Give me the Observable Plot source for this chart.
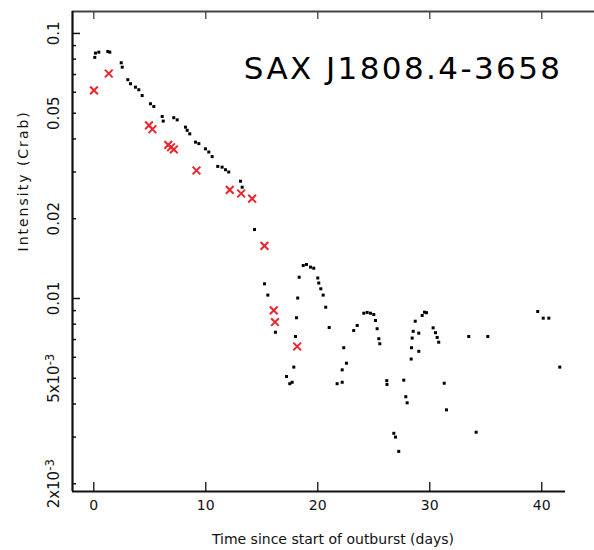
<!DOCTYPE html>
<html><head><meta charset="utf-8">
<script src="https://cdn.jsdelivr.net/npm/d3@7"></script>
<script src="https://cdn.jsdelivr.net/npm/@observablehq/plot@0.6"></script>
<style>html,body{margin:0;padding:0;background:#fff;} svg{display:block;}</style>
</head><body><div id="chart"></div>
<script>
// Black points: time since start of outburst (days) and intensity (Crab)
const blackT = [0.09,0.15,0.45,1.25,1.43,2.45,2.54,3.04,3.28,3.72,
  4.02,4.32,5.06,5.36,6.11,6.20,7.14,7.45,8.19,8.34,
  8.57,9.08,9.38,9.97,10.27,10.57,11.07,11.46,11.76,12.05,
  13.10,13.25,14.35,15.24,15.54,16.22,17.21,17.50,17.71,17.86,
  18.01,18.10,18.21,18.34,18.70,18.99,19.35,19.64,20.00,20.09,
  20.27,20.48,20.71,21.02,21.73,22.18,22.18,22.32,22.56,23.21,
  23.52,24.11,24.41,24.71,25.00,25.15,25.30,25.45,25.54,26.16,
  26.18,26.79,26.94,27.23,27.68,27.86,27.98,28.34,28.37,28.43,
  28.52,28.70,29.02,29.02,29.32,29.53,29.71,30.30,30.51,30.66,
  30.80,31.29,31.49,33.48,34.14,35.18,39.64,40.13,40.63,41.61];
const blackI = [0.0812,0.0843,0.0850,0.0855,0.0850,0.0775,0.0746,0.0669,0.0646,0.0627,
  0.0613,0.0583,0.0543,0.0530,0.0486,0.0467,0.0481,0.0472,0.0443,0.0431,
  0.0418,0.0389,0.0384,0.0367,0.0357,0.0343,0.0315,0.0313,0.0306,0.0300,
  0.0277,0.0263,0.0182,0.01136,0.0103,0.00746,0.00508,0.00477,0.00483,0.00551,
  0.00719,0.00846,0.01004,0.01203,0.01332,0.01344,0.01313,0.01301,0.01195,0.01144,
  0.01088,0.0103,0.00927,0.00777,0.00477,0.00483,0.00538,0.00652,0.0057,0.00757,
  0.00791,0.0088,0.00886,0.0088,0.0087,0.00826,0.00769,0.00705,0.00675,0.0049,
  0.00474,0.0031,0.0030,0.00265,0.00492,0.00426,0.00404,0.00591,0.00652,0.00709,
  0.00752,0.00821,0.0074,0.00632,0.00863,0.00888,0.00884,0.00775,0.00743,0.00713,
  0.00684,0.00479,0.0038,0.00719,0.00313,0.00719,0.00893,0.00843,0.00843,0.00551];

// Red crosses
const redT = [0.02,1.34,4.93,5.24,6.65,6.90,7.15,9.17,12.14,13.16,14.14,15.24,16.07,16.18,18.16];
const redI = [0.0610,0.0706,0.0450,0.0435,0.0380,0.0372,0.0365,0.0304,0.0257,0.0249,0.0238,0.0158,0.00902,0.00815,0.00659];

// Axes
const xTicks = [0,10,20,30,40];
const xTickLabels = ["0","10","20","30","40"];
const yTickValues = [0.1,0.05,0.02,0.01,0.005,0.002];
const yTickLabels = ["0.1","0.05","0.02","0.01","5x10^-3","2x10^-3"];
const yMajor = [0.1,0.01];
const yMinor = [0.09,0.08,0.07,0.06,0.05,0.04,0.03,0.02,0.009,0.008,0.007,0.006,0.005,0.004,0.003,0.002];
const xDomain = [-1.90, 42.12];
const yDomain = [0.00187, 0.121];
const titleText = "SAX J1808.4-3658";
const xLabel = "Time since start of outburst (days)";
const yLabel = "Intensity (Crab)";

const black = blackT.map((t,i)=>({t, I: blackI[i]}));
const red = redT.map((t,i)=>({t, I: redI[i]}));

const W=594, H=550, mL=72, mR=29, mT=11, mB=59;
const frameW = W-mL-mR, frameH = H-mT-mB;

const chart = Plot.plot({
  width: W, height: H,
  marginLeft: mL, marginRight: mR, marginTop: mT, marginBottom: mB,
  x: {type: "linear", domain: xDomain, axis: null},
  y: {type: "log", domain: yDomain, axis: null},
  style: {fontFamily: "DejaVu Sans", background: "#fff", overflow: "visible"},
  marks: [
    Plot.ruleY([yDomain[1]], {stroke: "#444", strokeWidth: 2, insetRight: -mR}),
    Plot.ruleY([yDomain[0]], {stroke: "#111", strokeWidth: 2}),
    Plot.ruleX([xDomain[0]], {stroke: "#111", strokeWidth: 2.2}),
    Plot.ruleX(xTicks, {stroke: "#111", strokeWidth: 1.3, insetTop: frameH-9}),
    Plot.ruleX(xTicks, {stroke: "#444", strokeWidth: 1.3, insetBottom: frameH-8}),
    Plot.ruleY(yMinor, {stroke: "#111", strokeWidth: 1.5, insetRight: frameW-4}),
    Plot.ruleY(yMajor, {stroke: "#111", strokeWidth: 1.5, insetRight: frameW-8}),
    Plot.text(xTicks, {x: d=>d, text: (d,i)=>xTickLabels[i], frameAnchor: "bottom", dy: 18, fontSize: 14, fill: "#111"}),
    Plot.text(yTickValues, {y: d=>d, text: (d,i)=>yTickLabels[i], frameAnchor: "left", dx: -18, rotate: -90, textAnchor: "middle", fontSize: 15, fill: "#111"}),
    Plot.text([xLabel], {text: d=>d, frameAnchor: "bottom", dx: 14, dy: 52, fontSize: 14, fill: "#111"}),
    Plot.text([yLabel], {text: d=>d, frameAnchor: "left", dx: -49, rotate: -90, fontSize: 14, fill: "#111"}),
    Plot.text([titleText], {text: d=>d, frameAnchor: "top-right", dx: -3, dy: 45, textAnchor: "end", fontSize: 31, fill: "#000"}),
    Plot.dot(black, {x: "t", y: "I", symbol: "square", r: 1.7, fill: "#000"}),
    Plot.dot(red, {x: "t", y: "I", symbol: "times", r: 3.6, stroke: "#e8262c", strokeWidth: 2})
  ]
});
document.getElementById("chart").appendChild(chart);
const sel = d3.select(chart).selectAll("text");
sel.filter(function(){ return this.textContent === yLabel; }).style("letter-spacing", "2px");
sel.filter(function(){ return this.textContent === titleText; }).style("letter-spacing", "2.4px");
sel.filter(function(){ return this.textContent.includes("^"); }).each(function(){
  const [base, exp] = this.textContent.split("^");
  const t = d3.select(this);
  t.text(base);
  t.append("tspan").attr("dy", "-0.45em").attr("font-size", "0.78em").text(exp);
});
</script>
</body></html>
